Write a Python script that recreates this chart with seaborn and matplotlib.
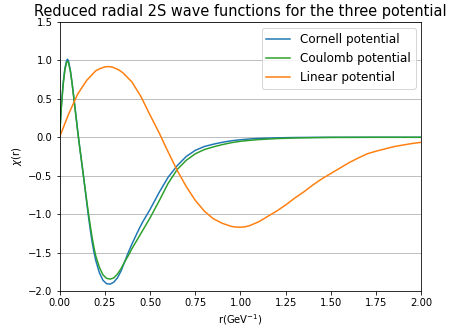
import matplotlib
matplotlib.use("Agg")
import matplotlib.pyplot as plt
import seaborn as sns
import pandas as pd

# ---- data ----
r_cc = [0, 0.01, 0.02, 0.03, 0.04, 0.045, 0.05, 0.06, 0.07, 0.08, 0.09, 0.10,
        0.11, 0.12, 0.13, 0.14, 0.15, 0.16, 0.17, 0.18, 0.19, 0.20, 0.22, 0.24,
        0.26, 0.28, 0.30, 0.32, 0.34, 0.36, 0.38, 0.40, 0.42, 0.44, 0.46, 0.48,
        0.50, 0.55, 0.60, 0.65, 0.70, 0.75, 0.80, 0.85, 0.90, 0.95, 1.00, 1.05,
        1.10, 1.20, 1.30, 1.40, 1.50, 1.75, 2.00]
cornell = [0, 0.40, 0.70, 0.90, 1.005, 1.015, 0.99, 0.87, 0.70, 0.50, 0.30, 0.09,
           -0.10, -0.28, -0.46, -0.65, -0.84, -1.03, -1.20, -1.36, -1.49, -1.60, -1.76, -1.86,
           -1.905, -1.91, -1.885, -1.83, -1.74, -1.62, -1.50, -1.39, -1.29, -1.19, -1.10, -1.02,
           -0.94, -0.72, -0.52, -0.37, -0.25, -0.17, -0.12, -0.09, -0.065, -0.045, -0.032, -0.022,
           -0.015, -0.007, -0.003, -0.001, 0, 0, 0]
coulomb = [0, 0.38, 0.68, 0.88, 0.98, 0.99, 0.97, 0.86, 0.69, 0.49, 0.29, 0.09,
           -0.10, -0.28, -0.46, -0.64, -0.82, -0.99, -1.15, -1.30, -1.43, -1.54, -1.69, -1.79,
           -1.835, -1.845, -1.83, -1.78, -1.71, -1.62, -1.54, -1.45, -1.37, -1.29, -1.21, -1.13,
           -1.05, -0.83, -0.60, -0.42, -0.30, -0.215, -0.16, -0.125, -0.095, -0.07, -0.052, -0.04,
           -0.03, -0.017, -0.009, -0.005, -0.002, 0, 0]

r_lin = [0, 0.05, 0.10, 0.15, 0.20, 0.225, 0.25, 0.27, 0.29, 0.30, 0.325, 0.35,
         0.40, 0.45, 0.50, 0.55, 0.60, 0.65, 0.70, 0.75, 0.80, 0.85, 0.90, 0.95,
         0.975, 1.00, 1.025, 1.05, 1.10, 1.15, 1.20, 1.25, 1.30, 1.35, 1.40, 1.45,
         1.50, 1.55, 1.60, 1.65, 1.70, 1.75, 1.80, 1.85, 1.90, 1.95, 2.00]
linear = [0, 0.30, 0.56, 0.74, 0.865, 0.895, 0.915, 0.92, 0.915, 0.905, 0.88, 0.84,
          0.72, 0.53, 0.29, 0.06, -0.19, -0.43, -0.64, -0.82, -0.96, -1.06, -1.12, -1.16,
          -1.168, -1.17, -1.165, -1.15, -1.10, -1.03, -0.96, -0.88, -0.79, -0.71, -0.62, -0.54,
          -0.47, -0.40, -0.33, -0.27, -0.215, -0.18, -0.15, -0.12, -0.10, -0.08, -0.065]

labels = ["Cornell potential", "Coulomb potential", "Linear potential"]
colors = ["#1f77b4", "#2ca02c", "#ff7f0e"]
x_ticks = [0.0, 0.25, 0.5, 0.75, 1.0, 1.25, 1.5, 1.75, 2.0]
y_ticks = [-2.0, -1.5, -1.0, -0.5, 0.0, 0.5, 1.0, 1.5]

plt.rcParams['font.family'] = ['DejaVu Sans']
fig = plt.figure(figsize=(455 / 72, 329 / 72), dpi=72)
ax = fig.add_axes([59.5 / 455, 38 / 329, 362 / 455, 269 / 329])

series = [(r_cc, cornell), (r_cc, coulomb), (r_lin, linear)]
for (rx, vy), lab, col in zip(series, labels, colors):
    df = pd.DataFrame({"r": rx, "chi": vy})
    sns.lineplot(data=df, x="r", y="chi", ax=ax, color=col, label=lab,
                 linewidth=1.5, estimator=None, sort=False)

ax.set_xlim(0, 2.0)
ax.set_ylim(-2.0, 1.5)
ax.set_xticks(x_ticks)
ax.set_yticks(y_ticks)
ax.set_xticklabels([f"{t:.2f}" for t in x_ticks], fontsize=10)
ax.set_yticklabels([f"{t:.1f}".replace("-", "\u2212") for t in y_ticks], fontsize=10)
ax.yaxis.grid(True, color="#b0b0b0", linewidth=0.8)
ax.xaxis.grid(False)
ax.set_axisbelow(True)
ax.set_xlabel(r"r(GeV$^{-1}$)", fontsize=10)
ax.set_ylabel(r"$\chi$(r)", fontsize=10)
ax.set_title("Reduced radial 2S wave functions for the three potential", fontsize=14.5)
ax.legend(loc="upper right", fontsize=12)

fig.savefig("out.png", dpi=72)
